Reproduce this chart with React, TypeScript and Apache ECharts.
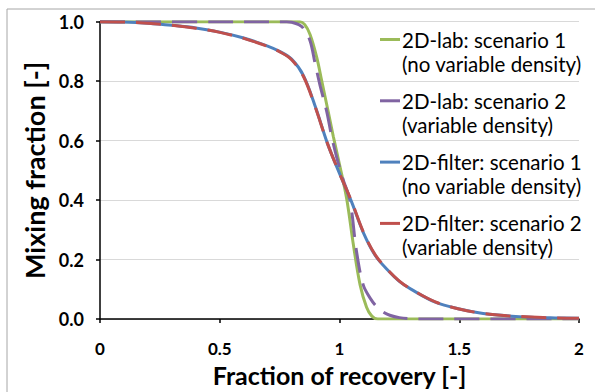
import React, { useEffect, useRef } from "react";
import * as echarts from "echarts";

// x = fraction of recovery, y = mixing fraction
const lab1: [number, number][] = [
  [0, 1], [0.5, 1], [0.8, 1], [0.835, 1], [0.855, 0.99], [0.877, 0.957], [0.905, 0.88],
  [0.926, 0.8], [0.953, 0.697], [0.974, 0.615], [1.0, 0.52], [1.03, 0.405], [1.058, 0.25],
  [1.086, 0.115], [1.113, 0.04], [1.135, 0.01], [1.16, 0], [1.5, 0], [2, 0],
];
const lab2: [number, number][] = [
  [0, 1], [0.5, 1], [0.78, 1], [0.8, 0.998], [0.83, 0.99], [0.849, 0.978], [0.877, 0.936],
  [0.898, 0.86], [0.919, 0.785], [0.947, 0.697], [0.967, 0.615], [0.988, 0.545], [1.015, 0.47],
  [1.044, 0.397], [1.071, 0.228], [1.099, 0.115], [1.13, 0.068], [1.155, 0.042], [1.18, 0.025],
  [1.21, 0.013], [1.25, 0.005], [1.3, 0.001], [1.35, 0], [2, 0],
];
const filter1: [number, number][] = [
  [0, 1], [0.1, 0.999], [0.2, 0.995], [0.3, 0.988], [0.4, 0.979], [0.5, 0.965], [0.6, 0.945],
  [0.7, 0.918], [0.75, 0.9], [0.8, 0.874], [0.85, 0.818], [0.9, 0.712], [0.95, 0.59], [1.0, 0.49],
  [1.05, 0.395], [1.1, 0.29], [1.15, 0.213], [1.2, 0.166], [1.25, 0.127], [1.3, 0.1], [1.4, 0.057],
  [1.5, 0.034], [1.6, 0.019], [1.7, 0.011], [1.8, 0.006], [1.9, 0.004], [2, 0.003],
];
const filter2: [number, number][] = [
  [0, 1], [0.1, 0.999], [0.2, 0.995], [0.3, 0.988], [0.4, 0.978], [0.5, 0.964], [0.6, 0.944],
  [0.7, 0.917], [0.75, 0.899], [0.8, 0.872], [0.85, 0.815], [0.9, 0.71], [0.95, 0.59], [1.0, 0.49],
  [1.05, 0.397], [1.1, 0.292], [1.15, 0.215], [1.2, 0.167], [1.25, 0.128], [1.3, 0.1], [1.4, 0.058],
  [1.5, 0.034], [1.6, 0.019], [1.7, 0.011], [1.8, 0.007], [1.9, 0.004], [2, 0.003],
];

const seriesNames = [
  "2D-lab: scenario 1 (no variable density)",
  "2D-lab: scenario 2 (variable density)",
  "2D-filter: scenario 1 (no variable density)",
  "2D-filter: scenario 2 (variable density)",
];
const legendLines: [string, string][] = [
  ["2D-lab: scenario 1", "(no variable density)"],
  ["2D-lab: scenario 2", "(variable density)"],
  ["2D-filter: scenario 1", "(no variable density)"],
  ["2D-filter: scenario 2", "(variable density)"],
];
const colors = ["#9BBB59", "#8064A2", "#4F81BD", "#C0504D"];
const dashed = [false, true, false, true];
const seriesData = [lab1, lab2, filter1, filter2];

const xTicks = { min: 0, max: 2, interval: 0.5 };
const yTicks = { min: 0, max: 1, interval: 0.2 };

const FONT = "Lato, 'Liberation Sans', sans-serif";

export default function App() {
  const ref = useRef<HTMLDivElement>(null);
  useEffect(() => {
    if (!ref.current) return;
    const chart = echarts.init(ref.current, null, { renderer: "svg" });
    const legendGraphics: any[] = [];
    const legendTop = 39.5;
    const legendStep = 61.3;
    legendLines.forEach((lines, i) => {
      const y = legendTop + i * legendStep;
      legendGraphics.push({
        type: "line",
        shape: { x1: 380, y1: y, x2: 400, y2: y },
        style: { stroke: colors[i], lineWidth: 3 },
        silent: true,
      });
      legendGraphics.push({
        type: "text",
        x: 402,
        y: y,
        style: {
          text: lines[0],
          font: `20.5px ${FONT}`,
          fill: "#000",
          verticalAlign: "middle",
          align: "left",
        },
      });
      legendGraphics.push({
        type: "text",
        x: 402,
        y: y + 24,
        style: {
          text: lines[1],
          font: `20.5px ${FONT}`,
          fill: "#000",
          verticalAlign: "middle",
          align: "left",
        },
      });
    });

    chart.setOption({
      animation: false,
      backgroundColor: "#fff",
      grid: { left: 100, right: 16, top: 21.7, bottom: 63.5 },
      xAxis: {
        type: "value",
        ...xTicks,
        name: "Fraction of recovery [-]",
        nameLocation: "middle",
        nameGap: 32,
        nameTextStyle: { fontFamily: FONT, fontWeight: "bold", fontSize: 25, color: "#000" },
        axisLine: { show: true, onZero: false, lineStyle: { color: "#000", width: 1.5 } },
        axisTick: { show: true, inside: false, length: 4, lineStyle: { color: "#000", width: 1.5 } },
        axisLabel: {
          fontFamily: FONT,
          fontWeight: "bold",
          fontSize: 17,
          color: "#000",
          margin: 21,
          formatter: (v: number) => String(v),
        },
        splitLine: { show: false },
      },
      yAxis: {
        type: "value",
        ...yTicks,
        name: "Mixing fraction [-]",
        nameLocation: "middle",
        nameGap: 50,
        nameTextStyle: { fontFamily: FONT, fontWeight: "bold", fontSize: 27, color: "#000" },
        axisLine: { show: true, lineStyle: { color: "#000", width: 1.5 } },
        axisTick: { show: true, inside: false, length: 4, lineStyle: { color: "#000", width: 1.5 } },
        axisLabel: {
          fontFamily: FONT,
          fontWeight: "bold",
          fontSize: 18,
          color: "#000",
          margin: 16,
          formatter: (v: number) => v.toFixed(1),
        },
        splitLine: { show: true, lineStyle: { color: "#D9D9D9", width: 1 } },
      },
      series: seriesData.map((d, i) => ({
        name: seriesNames[i],
        type: "line",
        data: d,
        showSymbol: false,
        symbol: "none",
        smooth: 0.35,
        clip: true,
        lineStyle: {
          color: colors[i],
          width: 3,
          type: dashed[i] ? [25, 11] : "solid",
          cap: "butt",
        },
        itemStyle: { color: colors[i] },
        z: 2 + i,
      })),
      graphic: [
        {
          type: "rect",
          shape: { x: 7, y: 9, width: 620, height: 420 },
          style: { fill: "none", stroke: "#A6A6A6", lineWidth: 1 },
          silent: true,
          z: 100,
        },
        ...legendGraphics,
      ],
    });
    return () => chart.dispose();
  }, []);
  return <div ref={ref} style={{ width: 595, height: 392, position: "absolute", left: 0, top: 0 }} />;
}
